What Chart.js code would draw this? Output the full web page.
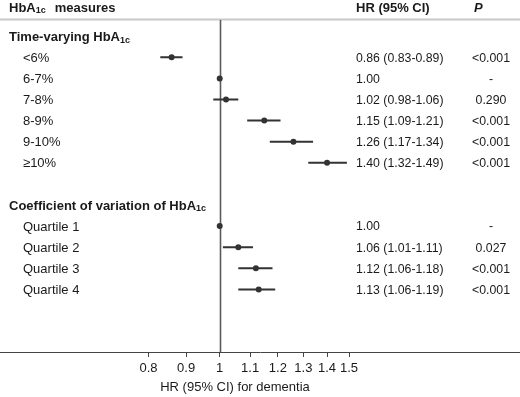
<!DOCTYPE html>
<html>
<head>
<meta charset="utf-8">
<script src="https://cdn.jsdelivr.net/npm/chart.js@4.4.1/dist/chart.umd.min.js"></script>
<style>
  html, body { margin: 0; padding: 0; background: #fff; }
</style>
</head>
<body>
<canvas id="myChart" width="520" height="397"></canvas>
<script>
// group headings and the row they sit on
const groupTitles = ['Time-varying HbA', 'Coefficient of variation of HbA'];
const groupRows = [0, 8];

// one entry per estimate
const labels = ['<6%', '6-7%', '7-8%', '8-9%', '9-10%', '≥10%', 'Quartile 1', 'Quartile 2', 'Quartile 3', 'Quartile 4'];
const rows = [1, 2, 3, 4, 5, 6, 9, 10, 11, 12];
const hr = [0.86, 1.00, 1.02, 1.15, 1.26, 1.40, 1.00, 1.06, 1.12, 1.13];
const ciLow = [0.83, null, 0.98, 1.09, 1.17, 1.32, null, 1.01, 1.06, 1.06];
const ciHigh = [0.89, null, 1.06, 1.21, 1.34, 1.49, null, 1.11, 1.18, 1.19];
const pValues = ['<0.001', '-', '0.290', '<0.001', '<0.001', '<0.001', '-', '0.027', '<0.001', '<0.001'];

const xTicks = [0.8, 0.9, 1, 1.1, 1.2, 1.3, 1.4, 1.5];

const FONT = "'Liberation Sans', Arial, sans-serif";
const ink = '#1a1a1a';

// CI segments: lo -> hi for each row, broken by gaps
const ciData = [];
hr.forEach((v, i) => {
  if (ciLow[i] == null) return;
  ciData.push({ x: ciLow[i], y: rows[i] });
  ciData.push({ x: ciHigh[i], y: rows[i] });
  ciData.push({ x: 1, y: null });
});
const pointData = hr.map((v, i) => ({ x: v, y: rows[i] }));

function hrLabel(i) {
  if (ciLow[i] == null) return hr[i].toFixed(2);
  return `${hr[i].toFixed(2)} (${ciLow[i].toFixed(2)}-${ciHigh[i].toFixed(2)})`;
}

// text with a small "1c" subscript after it
function drawSub(ctx, text, x, y, size) {
  ctx.font = `bold ${size}px ${FONT}`;
  ctx.fillText(text, x, y);
  const w = ctx.measureText(text).width;
  ctx.font = `bold ${Math.round(size * 0.7)}px ${FONT}`;
  ctx.fillText('1c', x + w, y + 3);
  return x + w + ctx.measureText('1c').width;
}

const tablePlugin = {
  id: 'table',
  beforeDatasetsDraw(chart) {
    const ctx = chart.ctx;
    const xs = chart.scales.x;
    const area = chart.chartArea;
    ctx.save();
    // header rule
    ctx.strokeStyle = '#c8c8c8';
    ctx.lineWidth = 2;
    ctx.beginPath();
    ctx.moveTo(0, 19.5);
    ctx.lineTo(520, 19.5);
    ctx.stroke();
    // reference line at HR = 1
    const x1 = Math.round(xs.getPixelForValue(1)) + 0.5;
    ctx.strokeStyle = '#5a5a5a';
    ctx.lineWidth = 1.6;
    ctx.beginPath();
    ctx.moveTo(x1, 20);
    ctx.lineTo(x1, area.bottom);
    ctx.stroke();
    ctx.restore();
  },
  afterDraw(chart) {
    const ctx = chart.ctx;
    const ys = chart.scales.y;
    ctx.save();
    ctx.fillStyle = ink;
    ctx.textBaseline = 'middle';
    ctx.textAlign = 'left';

    // column headers
    const endX = drawSub(ctx, 'HbA', 9, 8, 13);
    ctx.font = `bold 13px ${FONT}`;
    ctx.fillText('measures', endX + 9, 8);
    ctx.fillText('HR (95% CI)', 356, 8);
    ctx.font = `italic bold 13px ${FONT}`;
    ctx.fillText('P', 474, 8);

    // group headings
    groupTitles.forEach((t, g) => {
      drawSub(ctx, t, 9, ys.getPixelForValue(groupRows[g]) + 1, 13);
    });

    // rows
    labels.forEach((lab, i) => {
      const y = ys.getPixelForValue(rows[i]) + 1;
      ctx.textAlign = 'left';
      ctx.font = `13px ${FONT}`;
      ctx.fillText(lab, 23, y);
      ctx.font = `12.3px ${FONT}`;
      ctx.fillText(hrLabel(i), 356, y);
      ctx.textAlign = 'center';
      ctx.fillText(pValues[i], 491, y);
    });

    // axis title
    ctx.textAlign = 'center';
    ctx.font = `13px ${FONT}`;
    ctx.fillText('HR (95% CI) for dementia', 235, 387);
    ctx.restore();
  }
};

new Chart(document.getElementById('myChart'), {
  type: 'line',
  data: {
    datasets: [
      {
        data: ciData,
        borderColor: '#333',
        borderWidth: 2,
        pointRadius: 0,
        spanGaps: false,
        fill: false
      },
      {
        type: 'scatter',
        data: pointData,
        backgroundColor: '#333',
        borderColor: '#333',
        pointRadius: 3,
        borderWidth: 0
      }
    ]
  },
  options: {
    responsive: false,
    animation: false,
    devicePixelRatio: 1,
    layout: { autoPadding: false, padding: { top: 20, left: 0, right: 0, bottom: 0 } },
    plugins: { legend: { display: false }, tooltip: { enabled: false } },
    scales: {
      x: {
        type: 'logarithmic',
        min: 0.5022,
        max: 2.5635,
        afterBuildTicks: scale => { scale.ticks = xTicks.map(v => ({ value: v })); },
        afterFit: scale => { scale.height = 45; },
        grid: { display: true, drawOnChartArea: false, drawTicks: true, tickLength: 5, color: '#444' },
        border: { display: true, color: '#444', width: 1 },
        ticks: {
          autoSkip: false,
          maxRotation: 0,
          padding: 4,
          color: ink,
          font: { family: FONT, size: 13 },
          callback: v => String(v)
        }
      },
      y: {
        type: 'linear',
        display: false,
        reverse: true,
        min: -0.768,
        max: 14.967
      }
    }
  },
  plugins: [tablePlugin]
});
</script>
</body>
</html>
